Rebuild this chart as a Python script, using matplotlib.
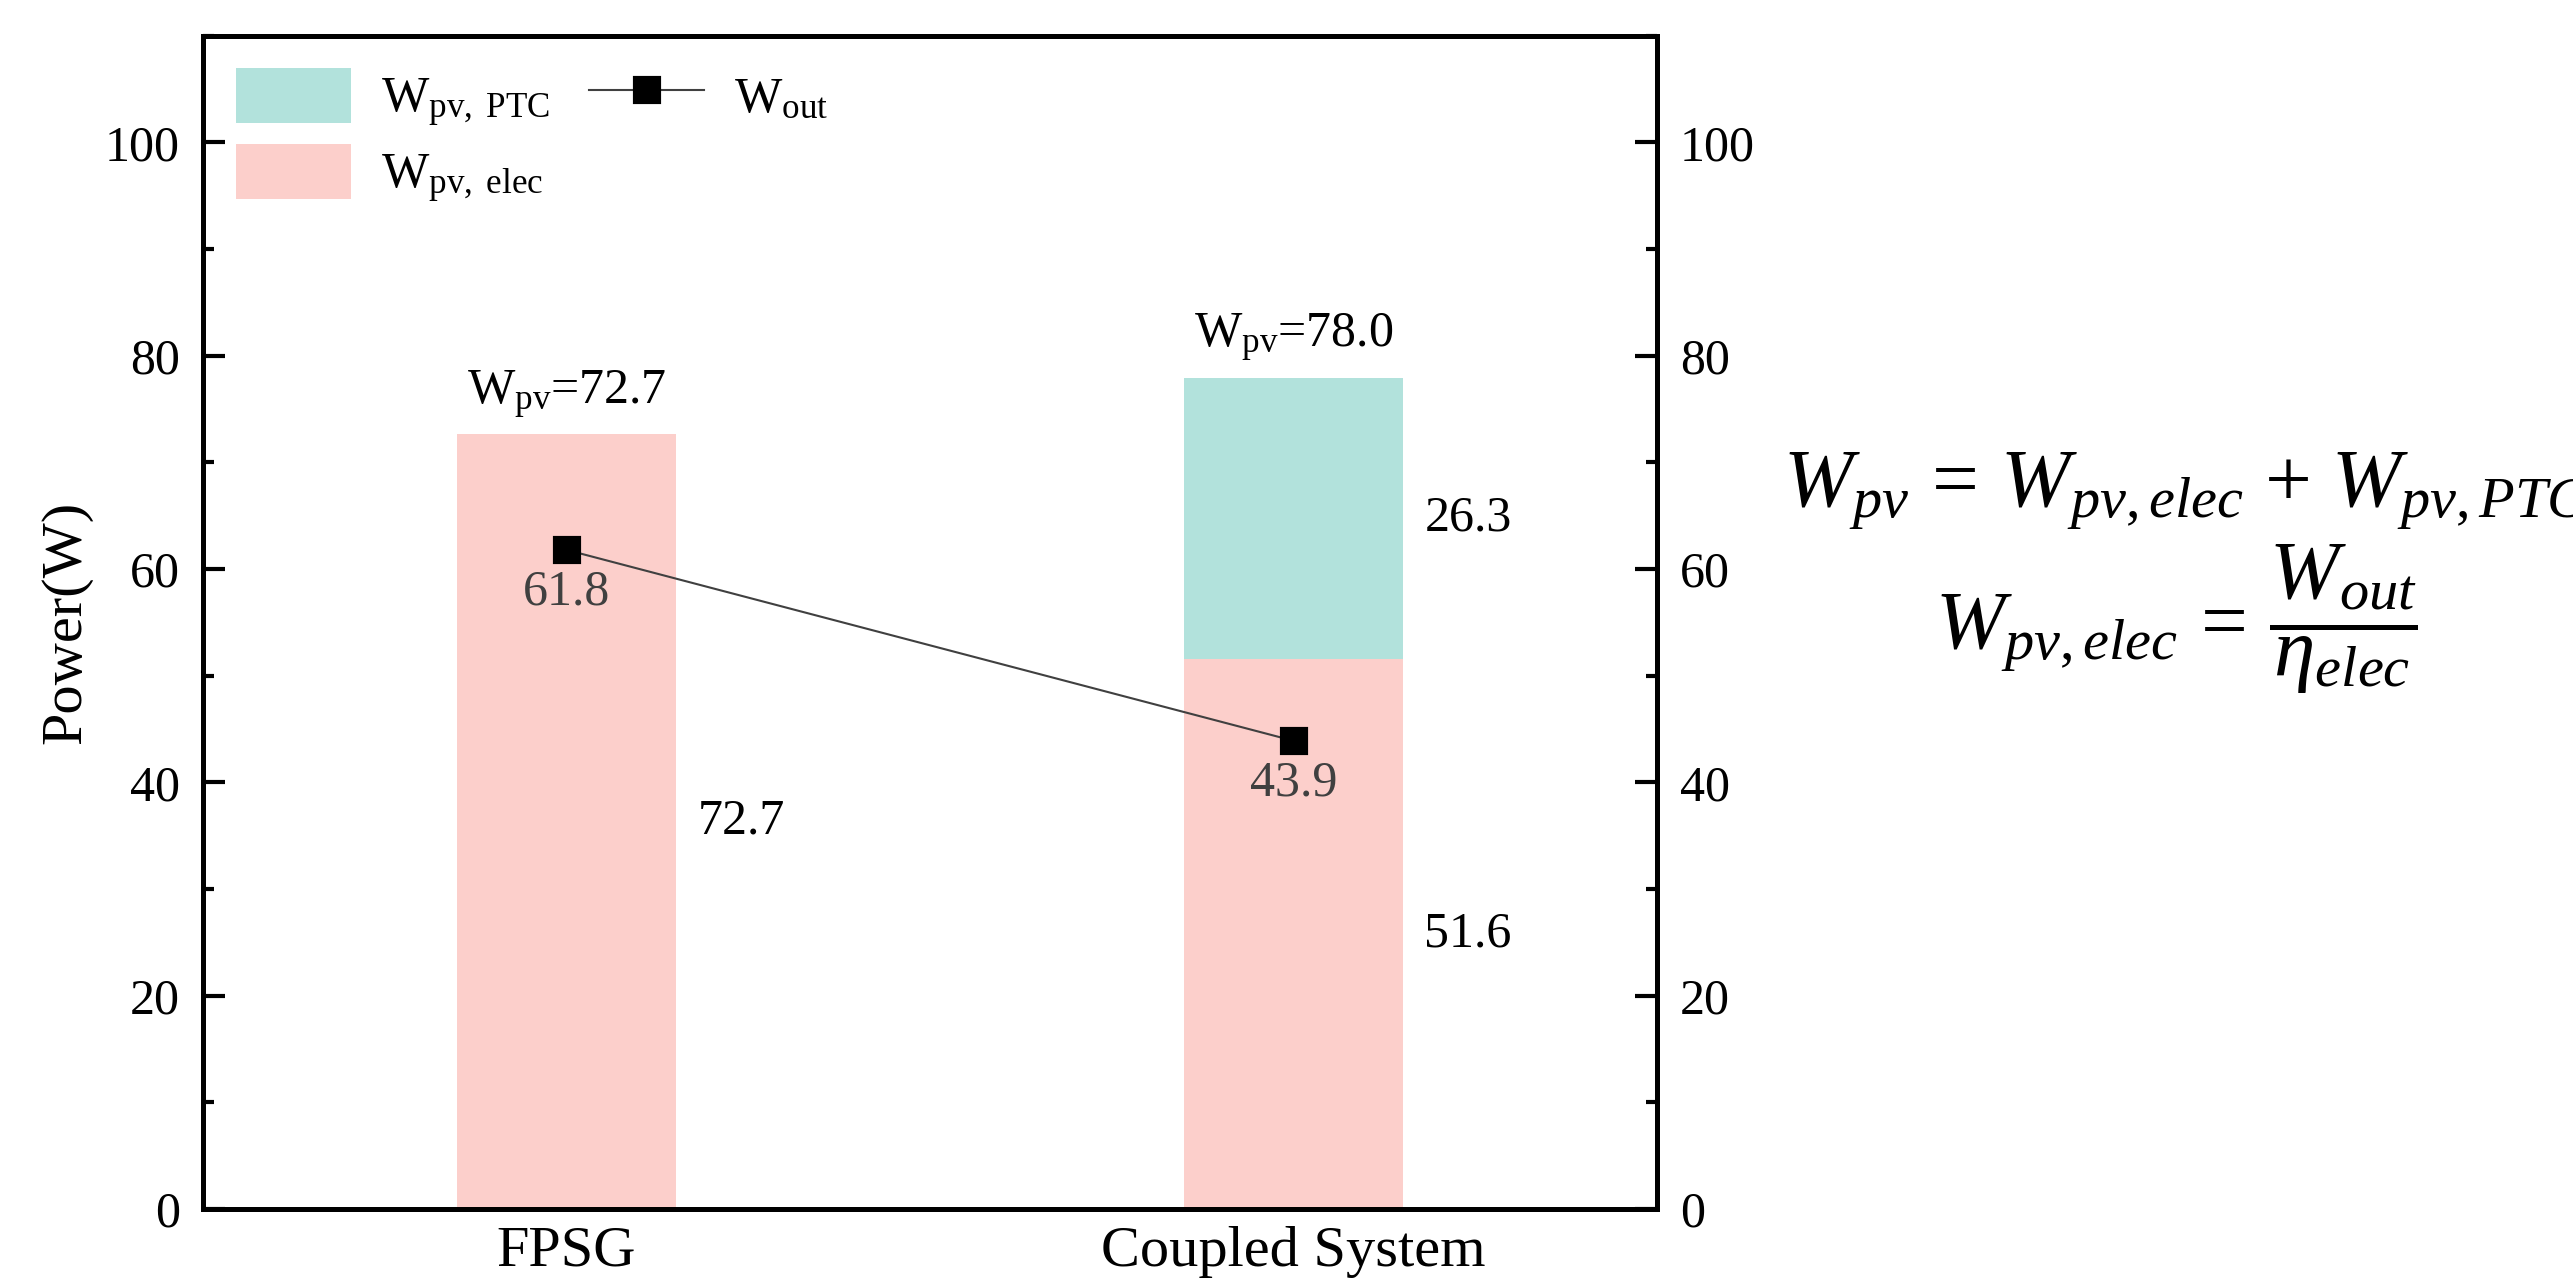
import numpy as np
import matplotlib
matplotlib.use('Agg')
import matplotlib.pyplot as plt
from matplotlib.ticker import MultipleLocator

plt.rcParams['font.family'] = ['Liberation Serif', 'DejaVu Serif']
plt.rcParams['mathtext.fontset'] = 'custom'
plt.rcParams['mathtext.rm'] = 'Liberation Serif'
plt.rcParams['mathtext.it'] = 'Liberation Serif:italic'
plt.rcParams['mathtext.bf'] = 'Liberation Serif:bold'

# data
categories = ['FPSG', 'Coupled System']
w_elec = [72.7, 51.6]
w_ptc = [0.0, 26.3]
w_out = [61.8, 43.9]
w_total = [72.7, 78.0]

col_elec = '#FCCFCB'
col_ptc = '#B2E2DC'

fig = plt.figure(figsize=(2573/300, 1280/300), dpi=300)
ax = fig.add_axes([0.0789, 0.0555, 0.5651, 0.9165])

x = np.arange(len(categories))
bw = 0.30
b_elec = ax.bar(x, w_elec, bw, color=col_elec, zorder=1)
b_ptc = ax.bar(x, w_ptc, bw, bottom=w_elec, color=col_ptc, zorder=1)
ln, = ax.plot(x, w_out, color='#404040', lw=0.5, marker='s', ms=5.6, mfc='black',
              mec='black', zorder=3)

# segment values next to the bars
for i in range(len(categories)):
    ax.text(x[i] + bw/2 + 0.03, w_elec[i]/2, f'{w_elec[i]:.1f}', fontsize=12,
            ha='left', va='center')
    if w_ptc[i] > 0:
        ax.text(x[i] + bw/2 + 0.03, w_elec[i] + w_ptc[i]/2, f'{w_ptc[i]:.1f}',
                fontsize=12, ha='left', va='center')
    ax.text(x[i], w_total[i] + 1.2, r'W$_{\rm pv}$=' + f'{w_total[i]:.1f}',
            fontsize=12, ha='center', va='bottom')
    ax.annotate(f'{w_out[i]:.1f}', (x[i], w_out[i]), xytext=(0, -4.5),
                textcoords='offset points', ha='center', va='top',
                fontsize=12, color='#404040')

ax.set_xlim(-0.5, 1.5)
ax.set_ylim(0, 110)
ax.set_xticks(x)
ax.set_xticklabels(categories, fontsize=14)
ax.set_ylabel('Power(W)', fontsize=14, labelpad=3)
ax.yaxis.set_major_locator(MultipleLocator(20))
ax.yaxis.set_minor_locator(MultipleLocator(10))
ax.tick_params(axis='y', which='both', direction='in', left=True, right=True,
               labelleft=True, labelright=True, labelsize=12, pad=5.5)
ax.tick_params(axis='y', which='major', length=5.2, width=1)
ax.tick_params(axis='y', which='minor', length=2.6, width=1)
ax.tick_params(axis='x', length=0, pad=4)
for s in ax.spines.values():
    s.set_linewidth(1.2)

ax.legend([b_ptc, b_elec, ln],
          [r'W$_{\rm pv,\ PTC}$', r'W$_{\rm pv,\ elec}$', r'W$_{\rm out}$'],
          ncol=2, frameon=False, loc='upper left', bbox_to_anchor=(0.0, 1.0),
          fontsize=12, handlelength=2.3, handleheight=1.3, labelspacing=0.3,
          columnspacing=0.8, handletextpad=0.6, borderaxespad=0.25)

fig.text(0.693, 0.617, r'$W_{pv}\,=\,W_{pv,elec}\ {+}\ W_{pv,PTC}$', fontsize=20,
         ha='left', va='center')
fig.text(0.752, 0.516, r'$W_{pv,elec}\,=\,\dfrac{W_{out}}{\eta_{elec}}$', fontsize=20,
         ha='left', va='center')

fig.savefig('out.png', dpi=300)
